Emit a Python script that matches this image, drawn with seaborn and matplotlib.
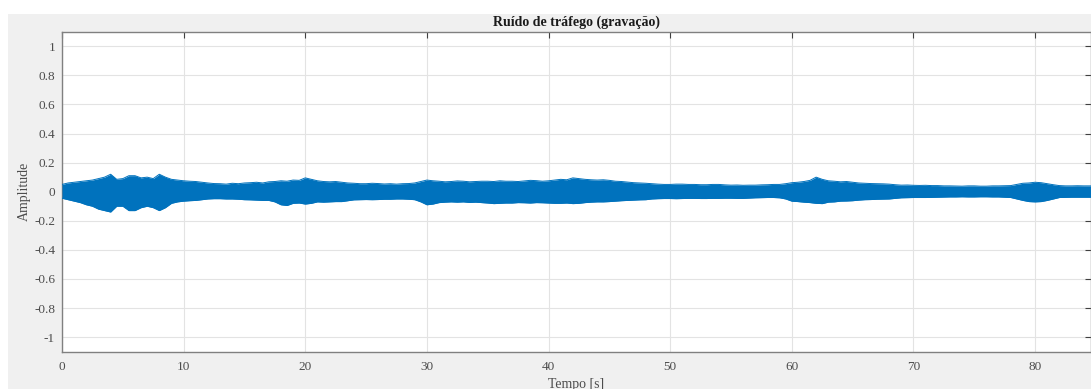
import numpy as np
import pandas as pd
import matplotlib
matplotlib.use("Agg")
import matplotlib.pyplot as plt
import seaborn as sns
from matplotlib.patches import Rectangle

tempo = [i * 0.5 for i in range(171)]
amp_sup = [
    0.05, 0.06, 0.065, 0.07, 0.075, 0.08, 0.09, 0.10, 0.12, 0.085,
    0.09, 0.11, 0.11, 0.095, 0.10, 0.09, 0.12, 0.10, 0.085, 0.08,
    0.075, 0.072, 0.07, 0.065, 0.06, 0.056, 0.055, 0.052, 0.058, 0.055,
    0.06, 0.062, 0.065, 0.06, 0.068, 0.07, 0.075, 0.072, 0.08, 0.078,
    0.095, 0.085, 0.075, 0.07, 0.068, 0.07, 0.065, 0.06, 0.058, 0.055,
    0.055, 0.058, 0.056, 0.053, 0.055, 0.052, 0.055, 0.056, 0.06, 0.07,
    0.08, 0.075, 0.072, 0.068, 0.07, 0.074, 0.072, 0.068, 0.07, 0.072,
    0.072, 0.07, 0.075, 0.072, 0.072, 0.07, 0.074, 0.078, 0.076, 0.072,
    0.075, 0.08, 0.085, 0.082, 0.095, 0.09, 0.085, 0.082, 0.08, 0.082,
    0.078, 0.072, 0.07, 0.066, 0.062, 0.06, 0.058, 0.055, 0.052, 0.05,
    0.05, 0.052, 0.052, 0.05, 0.05, 0.048, 0.048, 0.05, 0.05, 0.047,
    0.045, 0.046, 0.044, 0.045, 0.045, 0.047, 0.048, 0.05, 0.05, 0.055,
    0.062, 0.065, 0.07, 0.078, 0.10, 0.085, 0.075, 0.072, 0.068, 0.07,
    0.065, 0.06, 0.058, 0.056, 0.055, 0.054, 0.052, 0.048, 0.045, 0.046,
    0.044, 0.043, 0.044, 0.042, 0.042, 0.04, 0.04, 0.039, 0.038, 0.04,
    0.04, 0.038, 0.038, 0.04, 0.04, 0.041, 0.042, 0.05, 0.058, 0.06,
    0.065, 0.062, 0.055, 0.048, 0.042, 0.04, 0.04, 0.041, 0.04, 0.04,
    0.04]
amp_inf = [
    -0.045, -0.055, -0.065, -0.075, -0.09, -0.10, -0.12, -0.13, -0.14, -0.10,
    -0.10, -0.13, -0.13, -0.11, -0.10, -0.11, -0.13, -0.11, -0.08, -0.07,
    -0.065, -0.062, -0.06, -0.055, -0.05, -0.048, -0.048, -0.05, -0.05, -0.052,
    -0.055, -0.056, -0.058, -0.06, -0.06, -0.07, -0.09, -0.095, -0.08, -0.078,
    -0.085, -0.08, -0.07, -0.072, -0.07, -0.068, -0.068, -0.062, -0.056, -0.055,
    -0.054, -0.055, -0.054, -0.052, -0.052, -0.05, -0.05, -0.052, -0.055, -0.07,
    -0.09, -0.085, -0.075, -0.072, -0.07, -0.072, -0.07, -0.074, -0.072, -0.075,
    -0.078, -0.082, -0.08, -0.078, -0.078, -0.075, -0.076, -0.078, -0.075, -0.076,
    -0.078, -0.08, -0.08, -0.078, -0.082, -0.08, -0.075, -0.072, -0.07, -0.07,
    -0.068, -0.065, -0.062, -0.06, -0.058, -0.056, -0.055, -0.05, -0.048, -0.047,
    -0.047, -0.048, -0.047, -0.046, -0.046, -0.047, -0.047, -0.046, -0.046, -0.045,
    -0.045, -0.046, -0.046, -0.044, -0.042, -0.041, -0.04, -0.04, -0.042, -0.05,
    -0.065, -0.068, -0.072, -0.075, -0.08, -0.082, -0.072, -0.07, -0.065, -0.064,
    -0.062, -0.058, -0.055, -0.054, -0.052, -0.051, -0.05, -0.046, -0.042, -0.041,
    -0.04, -0.04, -0.04, -0.039, -0.038, -0.037, -0.036, -0.036, -0.035, -0.036,
    -0.036, -0.035, -0.035, -0.036, -0.036, -0.038, -0.04, -0.05, -0.06, -0.068,
    -0.07, -0.068, -0.06, -0.05, -0.04, -0.039, -0.038, -0.038, -0.038, -0.038,
    -0.038]

x_ticks = [0, 10, 20, 30, 40, 50, 60, 70, 80]
y_ticks = [-1, -0.8, -0.6, -0.4, -0.2, 0, 0.2, 0.4, 0.6, 0.8, 1]
y_ticklabels = ["-1", "-0.8", "-0.6", "-0.4", "-0.2", "0", "0.2", "0.4", "0.6", "0.8", "1"]

df = pd.DataFrame({"t": tempo, "sup": amp_sup, "inf": amp_inf})

sns.set_style("white")
plt.rcParams["font.family"] = ["Liberation Serif", "DejaVu Serif"]

W, H = 1091, 389
fig = plt.figure(figsize=(W / 100, H / 100), dpi=100)
fig.patch.set_facecolor("white")
bg = Rectangle((8 / W, 0), 1 - 8 / W, 1 - 14 / H, transform=fig.transFigure,
               facecolor="#f0f0f0", edgecolor="none", zorder=-10)
fig.add_artist(bg)

ax = fig.add_axes([62 / W, 1 - 351.7 / H, 1 - 62 / W, (351.7 - 31.7) / H])
ax.set_zorder(1)
ax.set_facecolor("white")

wave = "#0072BD"
ax.fill_between(df["t"], df["inf"], df["sup"], color=wave, linewidth=0, zorder=3)
sns.lineplot(data=df, x="t", y="sup", ax=ax, color=wave, linewidth=0.7, zorder=3)
sns.lineplot(data=df, x="t", y="inf", ax=ax, color=wave, linewidth=0.7, zorder=3)

ax.set_xlim(0, 84.6)
ax.set_ylim(-1.1, 1.1)
ax.set_xticks(x_ticks)
ax.set_yticks(y_ticks)
ax.set_yticklabels(y_ticklabels)

ax.grid(True, color="#e3e3e3", linewidth=0.8)
ax.set_axisbelow(True)
for s in ax.spines.values():
    s.set_visible(True)
    s.set_color("#808080")
    s.set_linewidth(1.0)
ax.tick_params(direction="in", length=4, width=0.8, color="#404040",
               top=True, right=True, labelsize=9.5, labelcolor="#4d4d4d", pad=5)
ax.tick_params(axis="x", pad=7)

ax.set_title("Ruído de tráfego (gravação)", fontsize=10, fontweight="bold",
             color="#1a1a1a", pad=4.5)
ax.set_xlabel("Tempo [s]", fontsize=10, color="#4d4d4d", labelpad=3)
ax.set_ylabel("Amplitude", fontsize=10, color="#4d4d4d", labelpad=2)

fig.savefig("out.png", dpi=100, facecolor=fig.get_facecolor())
